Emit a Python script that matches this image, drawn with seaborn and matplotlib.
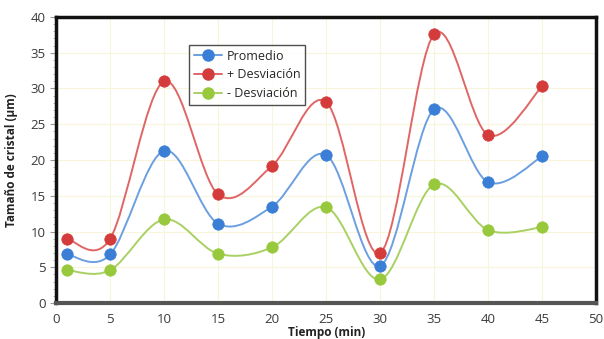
import numpy as np
import seaborn as sn
import matplotlib.pyplot as plt
from matplotlib.path import Path
from matplotlib.patches import PathPatch
from matplotlib.lines import Line2D

# data
tiempo = [1, 5, 10, 15, 20, 25, 30, 35, 40, 45]
promedio = [6.8, 6.8, 21.3, 11.1, 13.5, 20.7, 5.2, 27.1, 16.9, 20.5]
mas_desv = [9.0, 9.0, 31.0, 15.2, 19.2, 28.1, 7.0, 37.6, 23.5, 30.3]
menos_desv = [4.6, 4.6, 11.7, 6.9, 7.8, 13.4, 3.3, 16.6, 10.2, 10.6]
series_names = ['Promedio', '+ Desviación', '- Desviación']
x_ticks = list(range(0, 55, 5))
y_ticks = list(range(0, 45, 5))

marker_cols = ['#3a7fd5', '#d43c3c', '#98c93c']
line_cols = ['#6b9fe0', '#e06666', '#a9d063']

sn.set_style('white')
plt.rcParams['font.family'] = ['Open Sans', 'DejaVu Sans']


def smooth_path(x, y):
    # excel-like smoothed line: cubic bezier through the points
    pts = np.column_stack([x, y]).astype(float)
    verts = [pts[0]]
    codes = [Path.MOVETO]
    n = len(pts)
    for i in range(n - 1):
        p0 = pts[i - 1] if i > 0 else pts[i]
        p1 = pts[i]
        p2 = pts[i + 1]
        p3 = pts[i + 2] if i + 2 < n else pts[i + 1]
        c1 = p1 + (p2 - p0) / 6.0
        c2 = p2 - (p3 - p1) / 6.0
        verts += [c1, c2, p2]
        codes += [Path.CURVE4] * 3
    return Path(verts, codes)


fig = plt.figure(figsize=(6.04, 3.39), dpi=100)
ax = fig.add_axes([0.093, 0.106, 0.894, 0.844])

for vals, mc, lc, name in zip([promedio, mas_desv, menos_desv], marker_cols, line_cols, series_names):
    ax.add_patch(PathPatch(smooth_path(tiempo, vals), facecolor='none', edgecolor=lc, lw=1.4, zorder=2))
    sn.scatterplot(x=tiempo, y=vals, color=mc, s=68, edgecolor=mc, linewidth=0.5, zorder=3, ax=ax)

ax.set_xlim(0, 50)
ax.set_ylim(0, 40)
ax.set_xticks(x_ticks)
ax.set_yticks(y_ticks)
ax.set_yticks(np.arange(0, 41, 1), minor=True)
ax.grid(True, color='#f8f5dc', lw=0.8, zorder=0)
ax.tick_params(axis='both', labelsize=9.5, labelcolor='#3a3a3a', colors='#999999')
ax.tick_params(axis='y', which='major', left=True, length=4, width=0.8)
ax.tick_params(axis='y', which='minor', left=True, length=2, width=0.6, color='#aaaaaa')
ax.tick_params(axis='x', bottom=False, pad=4)

for side in ['left', 'top', 'right']:
    ax.spines[side].set_color('#111111')
    ax.spines[side].set_linewidth(2.5)
ax.spines['bottom'].set_color('#555555')
ax.spines['bottom'].set_linewidth(3)

ax.set_xlabel('Tiempo (min)', fontsize=8.5, fontweight='bold', color='#222222', labelpad=0)
ax.set_ylabel('Tamaño de cristal (µm)', fontsize=8.5, fontweight='bold', color='#222222', labelpad=9)

handles = [Line2D([0], [0], color=lc, marker='o', markersize=8, markerfacecolor=mc, markeredgecolor=mc, lw=1.4)
           for mc, lc in zip(marker_cols, line_cols)]
leg = ax.legend(handles, series_names, loc='upper left', bbox_to_anchor=(0.235, 0.925), fontsize=9,
                frameon=True, fancybox=False, edgecolor='#222222', handlelength=2.2, borderpad=0.4,
                labelspacing=0.45, handletextpad=0.4)
leg.get_frame().set_linewidth(1.0)

fig.savefig('out.png', dpi=100)
